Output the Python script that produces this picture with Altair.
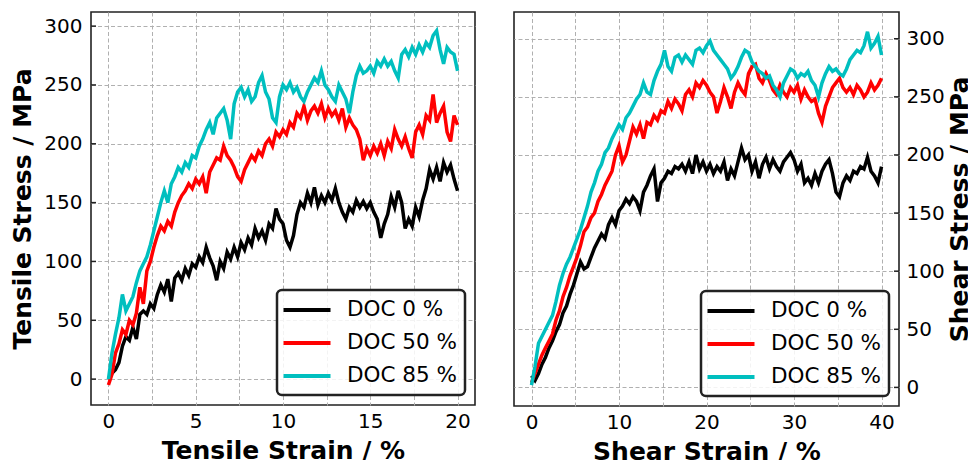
import altair as alt
import pandas as pd

FONT = "DejaVu Sans"
SERIES = ["DOC 0 %", "DOC 50 %", "DOC 85 %"]
COLORS = ["#000000", "#ff0000", "#00bfbf"]
STRESS_TICKS = [0, 50, 100, 150, 200, 250, 300]
TENSILE_GRID = [0, 2.5, 5, 7.5, 10, 12.5, 15, 17.5, 20]
SHEAR_GRID = [0, 5, 10, 15, 20, 25, 30, 35, 40]

# strain sampled every 0.2 % (tensile) and 0.4 % (shear)
TENSILE_STRAIN = [round(i * 0.2, 1) for i in range(101)]
SHEAR_STRAIN = [round(i * 0.4, 1) for i in range(101)]

TENSILE_DOC0 = [
    0, 5, 8, 14, 28, 36, 33, 44, 34, 55,
    58, 55, 64, 60, 72, 80, 74, 85, 66, 86,
    90, 84, 94, 88, 98, 95, 104, 99, 112, 103,
    96, 84, 100, 94, 108, 102, 112, 104, 116, 110,
    120, 114, 128, 120, 126, 118, 132, 128, 145, 136,
    132, 118, 112, 122, 140, 150, 146, 158, 150, 163,
    148, 156, 150, 158, 152, 162, 150, 142, 136, 146,
    142, 152, 146, 151, 145, 150, 142, 136, 120, 132,
    140, 155, 146, 160, 150, 128, 136, 130, 146, 138,
    152, 162, 178, 170, 180, 168, 184, 176, 182, 170,
    160,
]
TENSILE_DOC50 = [
    -5, 4, 22, 30, 42, 38, 50, 46, 56, 78,
    64, 92, 100, 112, 122, 130, 126, 134, 130, 142,
    150, 156, 160, 166, 162, 170, 166, 172, 158, 176,
    182, 188, 186, 198, 190, 186, 180, 172, 168, 178,
    184, 190, 186, 194, 190, 200, 204, 198, 210, 206,
    212, 208, 218, 214, 226, 222, 232, 220, 228, 232,
    226, 234, 222, 230, 224, 228, 220, 230, 214, 222,
    216, 212, 204, 186, 196, 190, 198, 192, 200, 190,
    202, 196, 212, 204, 198, 206, 196, 188, 210, 216,
    208, 224, 220, 242, 218, 226, 232, 210, 202, 224,
    216,
]
TENSILE_DOC85 = [
    0, 22, 38, 52, 72, 58, 64, 70, 82, 92,
    98, 104, 114, 126, 138, 150, 160, 150, 166, 172,
    180, 176, 184, 180, 190, 188, 198, 204, 212, 218,
    208, 222, 226, 230, 220, 204, 234, 244, 248, 240,
    246, 236, 240, 252, 258, 244, 238, 222, 218, 240,
    250, 246, 252, 244, 248, 240, 236, 244, 250, 256,
    252, 262, 250, 246, 240, 236, 250, 244, 238, 226,
    244, 258, 266, 260, 262, 266, 260, 270, 266, 272,
    266, 270, 262, 256, 276, 280, 274, 282, 276, 284,
    278, 286, 282, 292, 296, 280, 268, 282, 278, 276,
    262,
]

SHEAR_DOC0 = [
    10, 6, 12, 20, 26, 34, 40, 48, 54, 64,
    70, 80, 88, 98, 108, 102, 104, 112, 120, 126,
    132, 128, 140, 146, 140, 152, 156, 162, 158, 164,
    160, 152, 168, 174, 182, 188, 160, 176, 180, 186,
    184, 190, 188, 192, 186, 194, 184, 200, 188, 194,
    186, 192, 184, 190, 186, 194, 178, 188, 182, 194,
    206, 196, 200, 186, 194, 180, 192, 198, 188, 196,
    190, 186, 194, 198, 202, 196, 186, 192, 176, 180,
    174, 184, 176, 186, 192, 196, 184, 168, 164, 176,
    182, 178, 186, 184, 190, 188, 198, 186, 182, 176,
    190,
]
SHEAR_DOC50 = [
    4, 12, 20, 28, 34, 40, 46, 58, 66, 78,
    86, 96, 104, 112, 122, 134, 138, 146, 150, 160,
    166, 174, 180, 186, 200, 208, 194, 200, 212, 224,
    218, 226, 214, 228, 226, 234, 230, 238, 236, 246,
    240, 248, 244, 238, 252, 256, 250, 262, 258, 264,
    260, 254, 250, 236, 246, 258, 250, 240, 254, 262,
    256, 252, 270, 276, 278, 266, 262, 270, 264, 256,
    252, 260, 254, 250, 258, 254, 260, 248, 256, 250,
    246, 248, 236, 228, 242, 250, 258, 262, 266, 258,
    254, 258, 252, 260, 256, 250, 254, 262, 256, 260,
    266,
]
SHEAR_DOC85 = [
    2, 18, 38, 44, 50, 56, 62, 74, 88, 98,
    106, 112, 120, 128, 136, 146, 156, 168, 176, 186,
    192, 202, 206, 214, 220, 226, 222, 232, 236, 242,
    248, 252, 262, 254, 252, 264, 272, 278, 290, 276,
    272, 284, 286, 280, 286, 282, 278, 290, 292, 288,
    294, 298, 290, 286, 282, 278, 274, 266, 270, 276,
    284, 290, 288, 280, 276, 272, 270, 266, 268, 260,
    256, 250, 262, 268, 274, 272, 266, 270, 268, 272,
    264, 260, 250, 262, 270, 276, 272, 274, 270, 268,
    274, 282, 286, 290, 288, 294, 306, 292, 296, 302,
    286,
]


def frame(strain, curves):
    rows = []
    for name, vals in zip(SERIES, curves):
        for s, v in zip(strain, vals):
            rows.append({"strain": s, "stress": v, "series": name})
    return pd.DataFrame(rows)


tensile_df = frame(TENSILE_STRAIN, [TENSILE_DOC0, TENSILE_DOC50, TENSILE_DOC85])
shear_df = frame(SHEAR_STRAIN, [SHEAR_DOC0, SHEAR_DOC50, SHEAR_DOC85])
tick_df = pd.DataFrame({"stress": STRESS_TICKS})


def panel(df, x_dom, x_vals, lab_step, x_title, y_dom, y_title, y_orient, w, h, y_axis_extra, tick_x):
    x_enc = alt.X(
        "strain:Q",
        scale=alt.Scale(domain=x_dom, nice=False, zero=False),
        axis=alt.Axis(
            values=x_vals,
            labelExpr=f"datum.value % {lab_step} === 0 ? datum.label : ''",
            title=x_title,
            labelPadding=6,
            titlePadding=7,
        ),
    )
    y_enc = alt.Y(
        "stress:Q",
        scale=alt.Scale(domain=y_dom, nice=False, zero=False),
        axis=alt.Axis(values=STRESS_TICKS, orient=y_orient, title=y_title, **y_axis_extra),
    )
    color = alt.Color(
        "series:N",
        scale=alt.Scale(domain=SERIES, range=COLORS),
        legend=alt.Legend(
            title=None,
            orient="bottom-right",
            offset=10,
            symbolType="M-2.35,0H2.35",
            symbolSize=400,
            symbolStrokeWidth=4,
            labelFontSize=21.5,
            labelFont=FONT,
            labelColor="black",
            labelLimit=300,
            padding=8,
            rowPadding=10,
            strokeColor="#222222",
            cornerRadius=5,
            fillColor="rgba(255,255,255,0.85)",
            labelOffset=28,
            symbolOffset=10,
        ),
    )
    lines = alt.Chart(df).mark_line(strokeWidth=3.5, clip=True).encode(x=x_enc, y=y_enc, color=color)
    ticks = alt.Chart(tick_df).mark_rule(color="#222222", strokeWidth=1.5).encode(
        y=y_enc, x=alt.value(tick_x[0]), x2=alt.value(tick_x[1])
    )
    return alt.layer(lines, ticks).properties(width=w, height=h)


left = panel(
    tensile_df, [-1, 21], TENSILE_GRID, 5, "Tensile Strain / %",
    [-22, 312], "Tensile Stress / MPa", "left", 384, 393,
    {"labelPadding": 9, "titlePadding": 8}, (0, 5),
)
right = panel(
    shear_df, [-2, 42], SHEAR_GRID, 10, "Shear Strain / %",
    [-16, 323], "Shear Stress / MPa", "right", 385, 394,
    {"labelPadding": 7, "titlePadding": 3, "titleAngle": 270, "titleBaseline": "top"}, (380, 385),
)

chart = (
    alt.hconcat(left, right, spacing=37)
    .resolve_legend(color="independent")
    .properties(padding={"left": 2, "top": 3, "right": -5, "bottom": 0}, background="white")
    .configure(font=FONT)
    .configure_view(stroke="#222222", strokeWidth=1.6)
    .configure_axis(
        grid=True,
        gridColor="#b0b0b0",
        gridDash=[4, 2.5],
        gridWidth=1,
        domain=False,
        ticks=False,
        tickSize=0,
        labelFont=FONT,
        labelFontSize=20,
        labelColor="black",
        titleFont=FONT,
        titleFontSize=25,
        titleFontWeight="bold",
        titleColor="black",
        labelOverlap=False,
        labelFlush=False,
    )
    .configure_legend(strokeWidth=2.5)
)

chart.save("out.html", embed_options={"renderer": "svg", "actions": False})
